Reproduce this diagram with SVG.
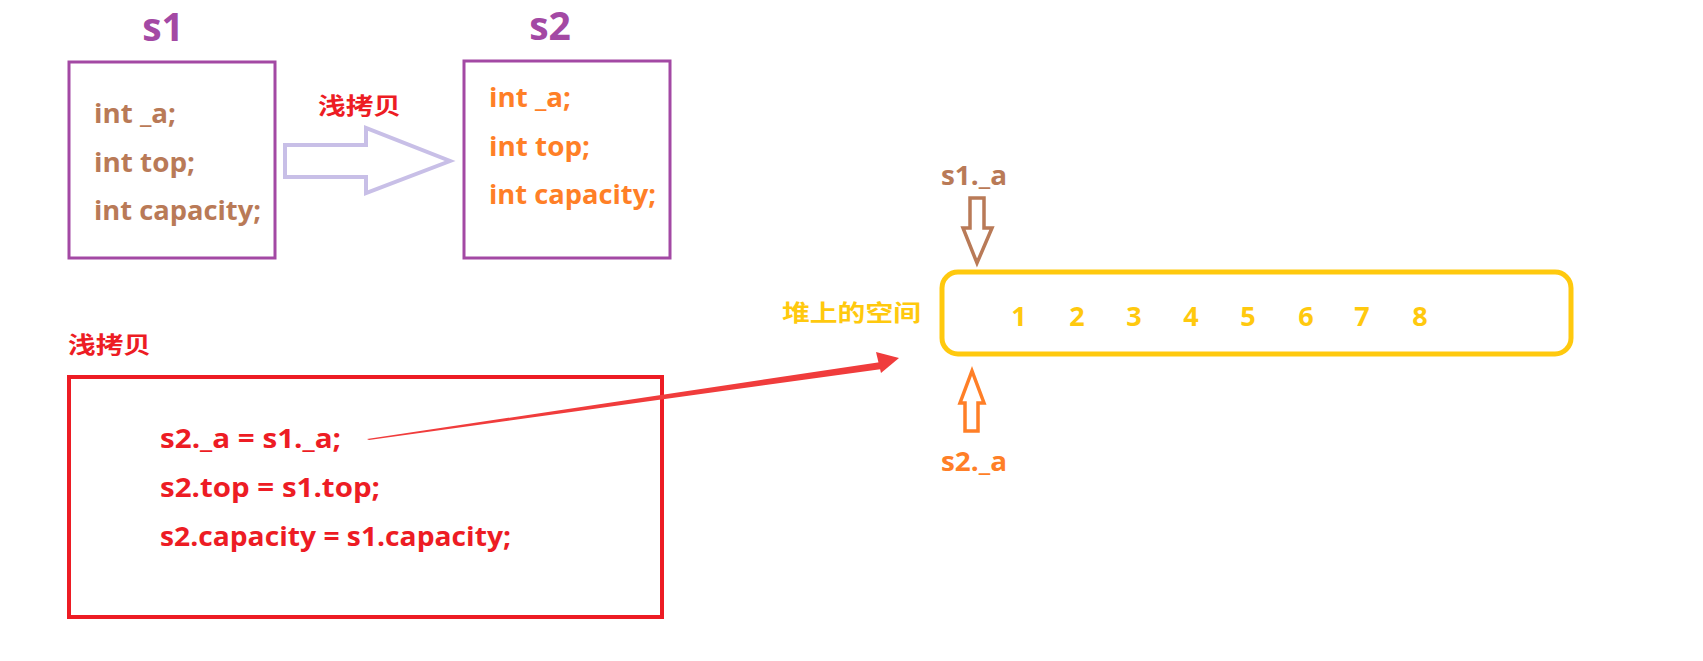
<svg xmlns="http://www.w3.org/2000/svg" width="1703" height="661" viewBox="0 0 1703 661">
<style>
text{font-family:"Open Sans","Noto Sans CJK SC",sans-serif;font-weight:bold}
.t1{fill:#b97a57;font-size:27px}
.t2{fill:#ff7f27;font-size:27px}
.code{fill:#ed1c24;font-size:27px}
.box{fill:none;stroke:#a349a4;stroke-width:3}
.num{fill:#ffc90e;font-size:27px;text-anchor:middle}
.title{fill:#a349a4;font-size:39px;text-anchor:middle}
.cn{fill:#ed1c24;font-size:23px}
</style>
<rect width="1703" height="661" fill="#fff"/>
<g id="s1">
<text class="title" x="163" y="41">s1</text>
<rect class="box" x="69" y="62" width="206" height="196"/>
<text class="t1" x="94" y="123" textLength="82" lengthAdjust="spacingAndGlyphs">int _a;</text>
<text class="t1" x="94" y="172" textLength="101" lengthAdjust="spacingAndGlyphs">int top;</text>
<text class="t1" x="94" y="220" textLength="167" lengthAdjust="spacingAndGlyphs">int capacity;</text>
</g>
<g id="copy-arrow">
<path d="M285 145 H366 V128 L450 161 L366 193 V177 H285 Z" fill="none" stroke="#c8bfe7" stroke-width="4" stroke-linejoin="miter"/>
<text class="cn" x="318" y="114" textLength="83" lengthAdjust="spacingAndGlyphs">浅拷贝</text>
</g>
<g id="s2">
<text class="title" x="550" y="40">s2</text>
<rect class="box" x="464" y="61" width="206" height="197"/>
<text class="t2" x="489" y="107" textLength="82" lengthAdjust="spacingAndGlyphs">int _a;</text>
<text class="t2" x="489" y="156" textLength="101" lengthAdjust="spacingAndGlyphs">int top;</text>
<text class="t2" x="489" y="204" textLength="167" lengthAdjust="spacingAndGlyphs">int capacity;</text>
</g>
<g id="code">
<text class="cn" x="68" y="353" textLength="83" lengthAdjust="spacingAndGlyphs">浅拷贝</text>
<rect x="69" y="377" width="593" height="240" fill="none" stroke="#ed1c24" stroke-width="4"/>
<text class="code" x="160" y="448" textLength="181" lengthAdjust="spacingAndGlyphs">s2._a = s1._a;</text>
<text class="code" x="160" y="497" textLength="220" lengthAdjust="spacingAndGlyphs">s2.top = s1.top;</text>
<text class="code" x="160" y="546" textLength="351" lengthAdjust="spacingAndGlyphs">s2.capacity = s1.capacity;</text>
</g>
<g id="heap">
<text x="782" y="321" fill="#ffc90e" font-size="23" textLength="139" lengthAdjust="spacingAndGlyphs">堆上的空间</text>
<rect x="942" y="272" width="629" height="82" rx="16" fill="none" stroke="#ffc90e" stroke-width="5"/>
<text class="num" x="1019" y="326">1</text>
<text class="num" x="1077" y="326">2</text>
<text class="num" x="1134" y="326">3</text>
<text class="num" x="1191" y="326">4</text>
<text class="num" x="1248" y="326">5</text>
<text class="num" x="1306" y="326">6</text>
<text class="num" x="1362" y="326">7</text>
<text class="num" x="1420" y="326">8</text>
</g>
<g id="s1a">
<text class="t1" x="941" y="185" textLength="66" lengthAdjust="spacingAndGlyphs">s1._a</text>
</g>
<g id="s2a">
<text class="t2" x="941" y="471" textLength="66" lengthAdjust="spacingAndGlyphs">s2._a</text>
</g>
<g id="connectors">
<path d="M970 198 H984 V228 H992 L977 263 L963 228 H970 Z" fill="none" stroke="#b97a57" stroke-width="3.5"/>
<path d="M965 431 H978 V403 H984 L972 371 L960 403 H965 Z" fill="none" stroke="#ff7f27" stroke-width="3.5"/>
<path d="M367 439 L881 362 L882 369 L369 440 Z" fill="#f03c3c"/>
<path d="M899 358 L876 352 L881 373 Z" fill="#f03c3c"/>
</g>
</svg>
